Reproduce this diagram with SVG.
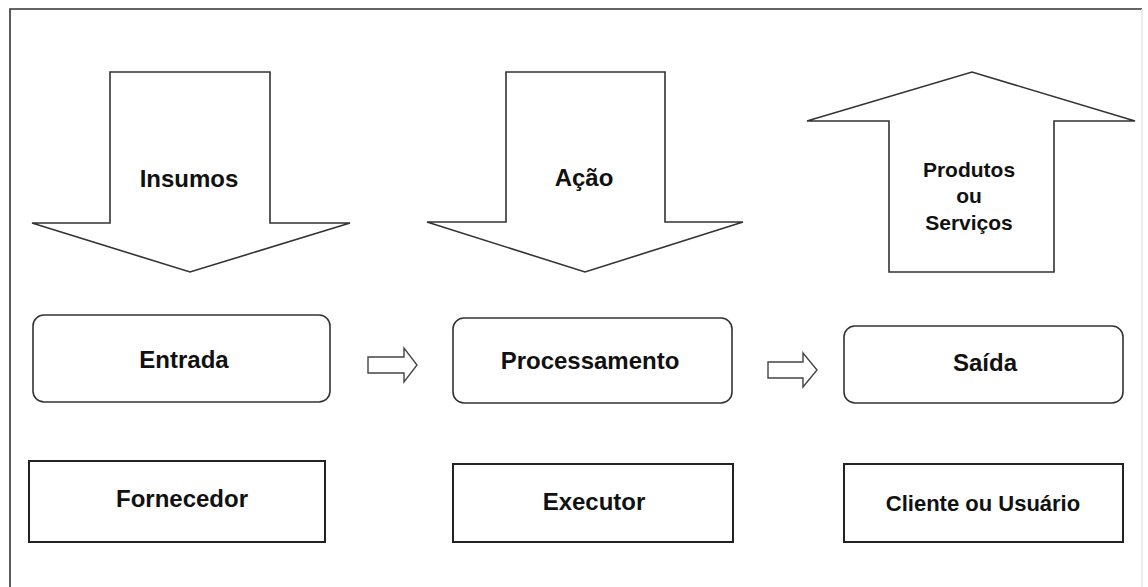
<svg xmlns="http://www.w3.org/2000/svg" width="1148" height="587" viewBox="0 0 1148 587">
  <style>
    .shape { fill: #ffffff; stroke: #333333; stroke-width: 1.6; stroke-linejoin: miter; }
    .box { fill: #ffffff; stroke: #222222; stroke-width: 2; }
    .round { fill: #ffffff; stroke: #333333; stroke-width: 1.6; }
    .label { font-family: "Liberation Sans", Arial, sans-serif; font-weight: bold; font-size: 24px; fill: #111111; text-anchor: middle; }
    .small { font-size: 21px; }
    .frame { stroke: #333333; stroke-width: 1.6; fill: none; }
    .flow { fill: #ffffff; stroke: #444444; stroke-width: 1.4; }
  </style>

  <rect width="1148" height="587" fill="#ffffff"/>

  <!-- outer frame -->
  <g id="frame">
    <path class="frame" d="M10,587 V9 H1142"/>
    <line x1="1142" y1="9" x2="1142" y2="587" stroke="#e4e4e4" stroke-width="1.5"/>
  </g>

  <!-- big block arrows -->
  <g id="insumos">
    <polygon class="shape" points="110,72 270,72 270,223 350,223 190,272 32,223 110,223"/>
    <text class="label" x="189" y="187">Insumos</text>
  </g>
  <g id="acao">
    <polygon class="shape" points="506,72 665,72 665,222 743,222 585,272 427,222 506,222"/>
    <text class="label" x="584" y="186">Ação</text>
  </g>
  <g id="produtos">
    <polygon class="shape" points="889,272 1054,272 1054,121 1135,121 972,72 807,121 889,121"/>
    <text class="label small" x="969" y="177">Produtos</text>
    <text class="label small" x="969" y="203">ou</text>
    <text class="label small" x="969" y="230">Serviços</text>
  </g>

  <!-- process row -->
  <g id="entrada">
    <rect class="round" x="33" y="315" width="297" height="87" rx="11" ry="11"/>
    <text class="label" x="184" y="368">Entrada</text>
  </g>
  <g id="processamento">
    <rect class="round" x="453" y="318" width="279" height="85" rx="11" ry="11"/>
    <text class="label" x="590" y="369">Processamento</text>
  </g>
  <g id="saida">
    <rect class="round" x="844" y="326" width="279" height="77" rx="11" ry="11"/>
    <text class="label" x="985" y="371">Saída</text>
  </g>

  <!-- small flow arrows between stages -->
  <g id="connectors">
    <polygon class="flow" points="368,357 404,357 404,348 417,365 404,382 404,373 368,373"/>
    <polygon class="flow" points="768,362 803,362 803,353 817,370 803,387 803,378 768,378"/>
  </g>

  <!-- actor row -->
  <g id="fornecedor">
    <rect class="box" x="29" y="461" width="296" height="81"/>
    <text class="label" x="182" y="507">Fornecedor</text>
  </g>
  <g id="executor">
    <rect class="box" x="453" y="464" width="280" height="78"/>
    <text class="label" x="594" y="510">Executor</text>
  </g>
  <g id="cliente">
    <rect class="box" x="844" y="464" width="279" height="78"/>
    <text class="label" x="983" y="511" style="font-size:22px">Cliente ou Usuário</text>
  </g>
</svg>
